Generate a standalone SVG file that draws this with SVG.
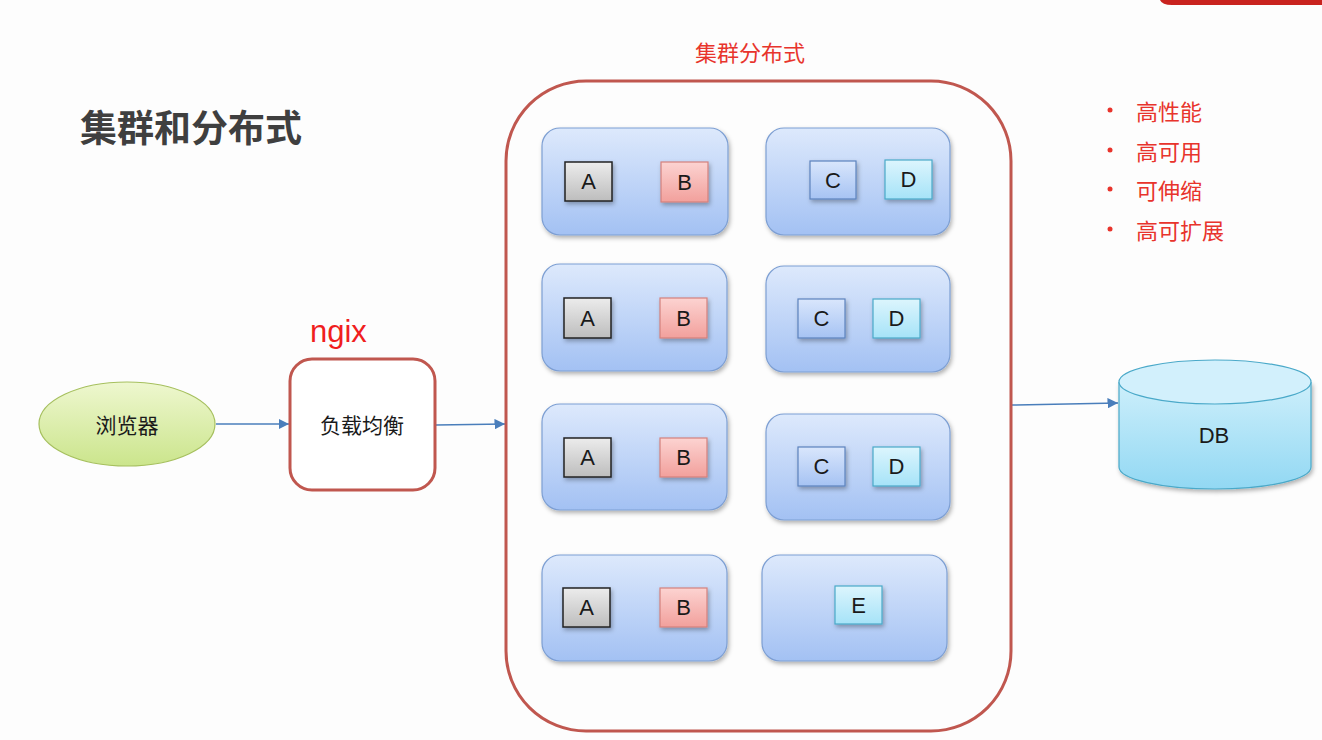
<svg xmlns="http://www.w3.org/2000/svg" width="1322" height="740" viewBox="0 0 1322 740">
<defs>
<linearGradient id="gServer" x1="0" y1="0" x2="0" y2="1"><stop offset="0" stop-color="#dde9fc"/><stop offset="1" stop-color="#a3c1f3"/></linearGradient>
<linearGradient id="gA" x1="0" y1="0" x2="0" y2="1"><stop offset="0" stop-color="#ececec"/><stop offset="1" stop-color="#bdbdbd"/></linearGradient>
<linearGradient id="gB" x1="0" y1="0" x2="0" y2="1"><stop offset="0" stop-color="#fcd3d1"/><stop offset="1" stop-color="#f2a09c"/></linearGradient>
<linearGradient id="gC" x1="0" y1="0" x2="0" y2="1"><stop offset="0" stop-color="#d9e6fc"/><stop offset="1" stop-color="#a6c3f3"/></linearGradient>
<linearGradient id="gD" x1="0" y1="0" x2="0" y2="1"><stop offset="0" stop-color="#dcf5fd"/><stop offset="1" stop-color="#a6e3f8"/></linearGradient>
<linearGradient id="gBrowser" x1="0" y1="0" x2="0" y2="1"><stop offset="0" stop-color="#eef7cf"/><stop offset="1" stop-color="#cbe58c"/></linearGradient>
<linearGradient id="gDB" x1="0" y1="0" x2="0" y2="1"><stop offset="0" stop-color="#cdeffb"/><stop offset="1" stop-color="#92d8f3"/></linearGradient>
<filter id="shadow" x="-10%" y="-10%" width="125%" height="130%"><feDropShadow dx="1.5" dy="2.5" stdDeviation="2" flood-color="#000" flood-opacity="0.3"/></filter>
<marker id="arrow" viewBox="0 0 10 10" refX="10" refY="5" markerWidth="7" markerHeight="7" orient="auto" markerUnits="strokeWidth"><path d="M0,0 L10,5 L0,10 z" fill="#4a7ebb"/></marker>
<style>
.server{fill:url(#gServer);stroke:#7d9fd3;stroke-width:1.2;filter:url(#shadow)}
.a{fill:url(#gA);stroke:#222;stroke-width:1.5;filter:url(#shadow)}
.b{fill:url(#gB);stroke:#d4807c;stroke-width:1.2;filter:url(#shadow)}
.c{fill:url(#gC);stroke:#5c82bd;stroke-width:1.2;filter:url(#shadow)}
.d{fill:url(#gD);stroke:#4aa9c9;stroke-width:1.2;filter:url(#shadow)}
.lbl{font-family:"Liberation Sans","Noto Sans CJK SC",sans-serif;font-size:22px;fill:#1a1a1a;text-anchor:middle;dominant-baseline:central}
.cn{font-family:"Noto Sans CJK SC",sans-serif;fill:#1a1a1a;text-anchor:middle;dominant-baseline:central}
.red{font-family:"Noto Sans CJK SC",sans-serif;fill:#e8342c}
.conn{stroke:#4a7ebb;stroke-width:1.5;fill:none;marker-end:url(#arrow)}
</style>
</defs>
<rect width="1322" height="740" fill="#fdfdfd"/>
<path d="M1160,0 L1322,0 L1322,5 L1172,5 Q1162,5 1160,0 z" fill="#c9231f"/>

<text x="80" y="142" font-family="Noto Sans CJK SC,sans-serif" font-size="37" font-weight="bold" fill="#3f3f3f">集群和分布式</text>
<text x="750" y="51" class="red" font-size="22" text-anchor="middle" dominant-baseline="central">集群分布式</text>
<text x="310" y="331" font-family="Liberation Sans,sans-serif" font-size="31" fill="#f01e1e" dominant-baseline="central">ngix</text>

<g id="features">
<circle cx="1110" cy="110" r="2.5" fill="#e8342c"/><text x="1136" y="110" class="red" font-size="22" dominant-baseline="central">高性能</text>
<circle cx="1110" cy="150" r="2.5" fill="#e8342c"/><text x="1136" y="150" class="red" font-size="22" dominant-baseline="central">高可用</text>
<circle cx="1110" cy="189" r="2.5" fill="#e8342c"/><text x="1136" y="189" class="red" font-size="22" dominant-baseline="central">可伸缩</text>
<circle cx="1110" cy="229" r="2.5" fill="#e8342c"/><text x="1136" y="229" class="red" font-size="22" dominant-baseline="central">高可扩展</text>
</g>

<g id="connectors">
<line x1="216" y1="424" x2="289" y2="424" class="conn"/>
<line x1="436" y1="425" x2="505" y2="424" class="conn"/>
<line x1="1012" y1="405" x2="1118" y2="403" class="conn"/>
</g>

<g id="browser">
<ellipse cx="127" cy="424" rx="88" ry="42" fill="url(#gBrowser)" stroke="#a6c05e" stroke-width="1.2"/>
<text x="127" y="424" class="cn" font-size="21">浏览器</text>
</g>

<g id="loadbalancer">
<rect x="290" y="359" width="145" height="131" rx="22" fill="#fff" stroke="#c0574f" stroke-width="3"/>
<text x="362" y="424" class="cn" font-size="21">负载均衡</text>
</g>

<g id="cluster">
<rect x="506" y="81" width="505" height="650" rx="80" fill="none" stroke="#c0574f" stroke-width="3"/>
</g>

<g id="server1">
<rect x="542" y="128" width="186" height="107" rx="18" class="server"/>
<rect x="565" y="162" width="47" height="39" class="a"/><text x="588.5" y="181.5" class="lbl">A</text>
<rect x="661" y="162" width="47" height="40" class="b"/><text x="684.5" y="182" class="lbl">B</text>
</g>
<g id="server2">
<rect x="766" y="128" width="184" height="107" rx="18" class="server"/>
<rect x="810" y="161" width="46" height="38" class="c"/><text x="833" y="180" class="lbl">C</text>
<rect x="885" y="160" width="47" height="39" class="d"/><text x="908.5" y="179.5" class="lbl">D</text>
</g>
<g id="server3">
<rect x="542" y="264" width="185" height="107" rx="18" class="server"/>
<rect x="564" y="298" width="47" height="40" class="a"/><text x="587.5" y="318" class="lbl">A</text>
<rect x="660" y="298" width="47" height="40" class="b"/><text x="683.5" y="318" class="lbl">B</text>
</g>
<g id="server4">
<rect x="766" y="266" width="184" height="106" rx="18" class="server"/>
<rect x="798" y="299" width="47" height="39" class="c"/><text x="821.5" y="318.5" class="lbl">C</text>
<rect x="873" y="299" width="47" height="39" class="d"/><text x="896.5" y="318.5" class="lbl">D</text>
</g>
<g id="server5">
<rect x="542" y="404" width="185" height="106" rx="18" class="server"/>
<rect x="564" y="438" width="47" height="39" class="a"/><text x="587.5" y="457.5" class="lbl">A</text>
<rect x="660" y="438" width="47" height="39" class="b"/><text x="683.5" y="457.5" class="lbl">B</text>
</g>
<g id="server6">
<rect x="766" y="414" width="184" height="106" rx="18" class="server"/>
<rect x="798" y="447" width="47" height="39" class="c"/><text x="821.5" y="466.5" class="lbl">C</text>
<rect x="873" y="447" width="47" height="39" class="d"/><text x="896.5" y="466.5" class="lbl">D</text>
</g>
<g id="server7">
<rect x="542" y="555" width="185" height="106" rx="18" class="server"/>
<rect x="563" y="588" width="47" height="39" class="a"/><text x="586.5" y="607.5" class="lbl">A</text>
<rect x="660" y="588" width="47" height="39" class="b"/><text x="683.5" y="607.5" class="lbl">B</text>
</g>
<g id="server8">
<rect x="762" y="555" width="185" height="106" rx="18" class="server"/>
<rect x="835" y="586" width="47" height="38" class="d"/><text x="858.5" y="605" class="lbl">E</text>
</g>

<g id="db">
<path d="M1119,382 L1119,467 A96,22 0 0 0 1311,467 L1311,382" fill="url(#gDB)" stroke="#4aa9c9" stroke-width="1.2" filter="url(#shadow)"/>
<ellipse cx="1215" cy="382" rx="96" ry="22" fill="#d2f0fc" stroke="#4aa9c9" stroke-width="1.2"/>
<text x="1214" y="435" class="lbl">DB</text>
</g>
</svg>
